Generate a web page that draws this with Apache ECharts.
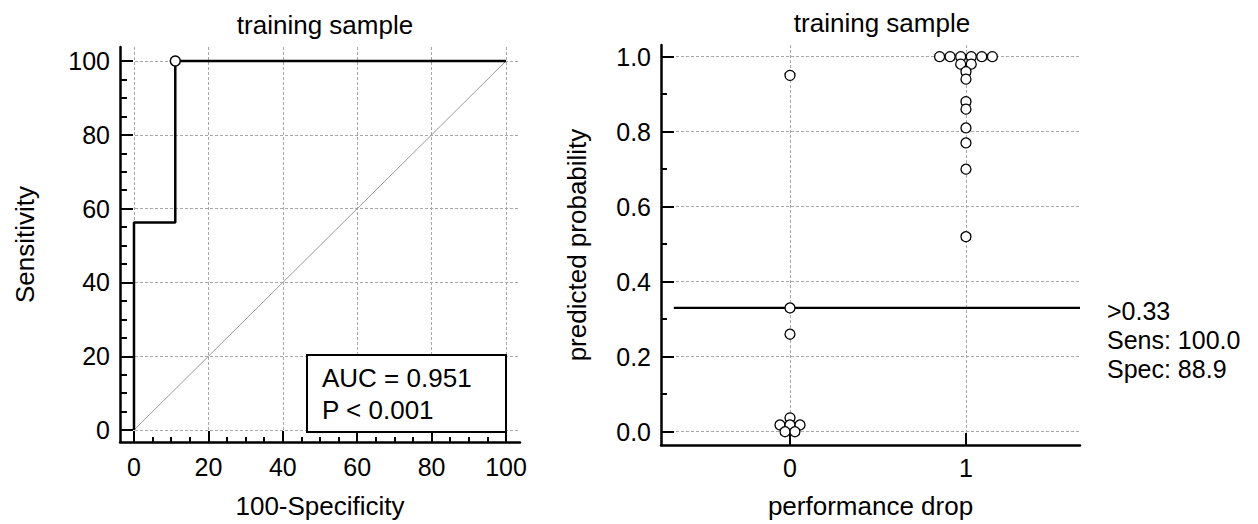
<!DOCTYPE html>
<html><head><meta charset="utf-8">
<script src="https://cdn.jsdelivr.net/npm/echarts@6/dist/echarts.min.js"></script>
<style>html,body{margin:0;padding:0;background:#fff}#c{width:1258px;height:524px}</style>
</head><body><div id="c"></div>
<script>
// ---- data ----
const rocFpr = [0, 0, 11.1, 11.1, 100];
const rocTpr = [0, 56.25, 56.25, 100, 100];
const cutoffFpr = [11.1];
const cutoffTpr = [100];
const diagX = [0, 100];
const diagY = [0, 100];
const rocMajorTicks = [0, 20, 40, 60, 80, 100];
const rocMinorTicks = [5, 10, 15, 25, 30, 35, 45, 50, 55, 65, 70, 75, 85, 90, 95];
const group0Prob = [0.95, 0.33, 0.26, 0.037, 0.018, 0.018, 0.018, 0.0, 0.0];
const group0Jitter = [0, 0, 0, 0, -0.057, 0, 0.057, -0.028, 0.028];
const group1Prob = [1, 1, 1, 1, 1, 1, 0.98, 0.98, 0.96, 0.94, 0.88, 0.86, 0.81, 0.77, 0.70, 0.52];
const group1Jitter = [-0.15, -0.09, -0.03, 0.03, 0.09, 0.15, -0.03, 0.03, 0, 0, 0, 0, 0, 0, 0, 0];
const groupCategories = [0, 1];
const probMajorTicks = [0, 0.2, 0.4, 0.6, 0.8, 1.0];
const probMinorTicks = [0.1, 0.3, 0.5, 0.7, 0.9];
const cutoffValue = [0.33];
const cutoffSpan = [-0.66, 1.648];
const aucLines = ['AUC = 0.951', 'P < 0.001'];
const cutoffLines = ['>0.33', 'Sens: 100.0', 'Spec: 88.9'];
const titles = ['training sample', 'training sample'];
const axisNames = ['100-Specificity', 'Sensitivity', 'performance drop', 'predicted probability'];

// ---- chart ----
const FONT = '"Liberation Sans", Arial, sans-serif';
const FS = 25;     // tick labels / annotations
const FN = 26;     // titles / axis names
const black = '#000';
const gridLine = {show: true, lineStyle: {color: '#a8a8a8', width: 1, type: [3, 2]}};
const noSplit = {show: false};
const axisLineStyle = {show: true, onZero: false, lineStyle: {color: black, width: 2.5}};
const labelStyle = (m, vals, fmt) => ({show: true, customValues: vals, margin: m, fontSize: FS, color: black, fontFamily: FONT, formatter: fmt});
const tickStyle = (len, vals) => ({show: true, inside: true, length: len, customValues: vals, lineStyle: {color: black, width: 2}});
const nameStyle = {fontSize: FN, color: black, fontFamily: FONT};

const chart = echarts.init(document.getElementById('c'), null, {renderer: 'svg'});
chart.setOption({
  animation: false,
  backgroundColor: '#fff',
  title: [
    {text: titles[0], left: 320, top: 7, textAlign: 'center', textStyle: {fontSize: FN, fontWeight: 'normal', color: black, fontFamily: FONT}},
    {text: titles[1], left: 877, top: 5, textAlign: 'center', textStyle: {fontSize: FN, fontWeight: 'normal', color: black, fontFamily: FONT}}
  ],
  grid: [
    {left: 120, top: 47, width: 400, height: 397, containLabel: false},
    {left: 661, top: 45, width: 419, height: 407, containLabel: false}
  ],
  xAxis: [
    {type: 'value', gridIndex: 0, position: 'bottom', min: -3.76, max: 103.76,
     axisLine: axisLineStyle, axisTick: tickStyle(11, rocMajorTicks),
     axisLabel: labelStyle(12, rocMajorTicks, v => String(v)), splitLine: gridLine,
     name: axisNames[0], nameLocation: 'middle', nameGap: 51, nameTextStyle: nameStyle},
    {type: 'value', gridIndex: 0, position: 'bottom', min: -3.76, max: 103.76,
     axisLine: {show: false, onZero: false}, axisTick: tickStyle(5, rocMinorTicks),
     axisLabel: {show: false}, splitLine: noSplit},
    {type: 'value', gridIndex: 1, position: 'bottom', min: -0.733, max: 1.648,
     axisLine: axisLineStyle, axisTick: tickStyle(12, groupCategories),
     axisLabel: labelStyle(10, groupCategories, v => String(v)), splitLine: gridLine,
     name: axisNames[2], nameLocation: 'middle', nameGap: 48, nameTextStyle: nameStyle}
  ],
  yAxis: [
    {type: 'value', gridIndex: 0, position: 'left', min: -3.23, max: 103.8,
     axisLine: axisLineStyle, axisTick: tickStyle(13, rocMajorTicks),
     axisLabel: labelStyle(10, rocMajorTicks, v => String(v)), splitLine: gridLine,
     name: axisNames[1], nameLocation: 'middle', nameGap: 82, nameTextStyle: nameStyle},
    {type: 'value', gridIndex: 0, position: 'left', min: -3.23, max: 103.8,
     axisLine: {show: false, onZero: false}, axisTick: tickStyle(7, rocMinorTicks),
     axisLabel: {show: false}, splitLine: noSplit},
    {type: 'value', gridIndex: 1, position: 'left', min: -0.0354, max: 1.031,
     axisLine: axisLineStyle, axisTick: tickStyle(13, probMajorTicks),
     axisLabel: labelStyle(10, probMajorTicks, v => v.toFixed(1)), splitLine: gridLine,
     name: axisNames[3], nameLocation: 'middle', nameGap: 71, nameTextStyle: nameStyle},
    {type: 'value', gridIndex: 1, position: 'left', min: -0.0354, max: 1.031,
     axisLine: {show: false, onZero: false}, axisTick: tickStyle(6, probMinorTicks),
     axisLabel: {show: false}, splitLine: noSplit}
  ],
  series: [
    {type: 'line', xAxisIndex: 0, yAxisIndex: 0, data: diagX.map((x, i) => [x, diagY[i]]),
     symbol: 'none', lineStyle: {color: '#9a9a9a', width: 1}, z: 2, silent: true},
    {type: 'line', xAxisIndex: 0, yAxisIndex: 0, data: rocFpr.map((x, i) => [x, rocTpr[i]]),
     symbol: 'none', lineStyle: {color: black, width: 2.5}, z: 3, silent: true},
    {type: 'scatter', xAxisIndex: 0, yAxisIndex: 0, data: cutoffFpr.map((x, i) => [x, cutoffTpr[i]]),
     symbol: 'circle', symbolSize: 10, itemStyle: {color: '#fff', borderColor: black, borderWidth: 1.5, opacity: 1}, z: 4, silent: true},
    {type: 'line', xAxisIndex: 2, yAxisIndex: 2, data: cutoffSpan.map(x => [x, cutoffValue[0]]),
     symbol: 'none', lineStyle: {color: black, width: 2.2}, z: 3, silent: true},
    {type: 'scatter', xAxisIndex: 2, yAxisIndex: 2, data: group0Prob.map((p, i) => [groupCategories[0] + group0Jitter[i], p]),
     symbol: 'circle', symbolSize: 10, itemStyle: {color: '#fff', borderColor: black, borderWidth: 1.3, opacity: 1}, z: 4, silent: true},
    {type: 'scatter', xAxisIndex: 2, yAxisIndex: 2, data: group1Prob.map((p, i) => [groupCategories[1] + group1Jitter[i], p]),
     symbol: 'circle', symbolSize: 10, itemStyle: {color: '#fff', borderColor: black, borderWidth: 1.3, opacity: 1}, z: 4, silent: true}
  ],
  graphic: [
    {type: 'rect', z: 100, shape: {x: 307, y: 355, width: 199, height: 77}, style: {fill: '#fff', stroke: black, lineWidth: 2}},
    {type: 'text', z: 101, x: 322, y: 378, style: {text: aucLines[0], fontSize: 26, fontFamily: FONT, fill: black, verticalAlign: 'middle'}},
    {type: 'text', z: 101, x: 322, y: 410, style: {text: aucLines[1], fontSize: 26, fontFamily: FONT, fill: black, verticalAlign: 'middle'}},
    {type: 'text', z: 101, x: 1107, y: 311, style: {text: cutoffLines[0], fontSize: FS, fontFamily: FONT, fill: black, verticalAlign: 'middle'}},
    {type: 'text', z: 101, x: 1107, y: 340, style: {text: cutoffLines[1], fontSize: FS, fontFamily: FONT, fill: black, verticalAlign: 'middle'}},
    {type: 'text', z: 101, x: 1107, y: 369, style: {text: cutoffLines[2], fontSize: FS, fontFamily: FONT, fill: black, verticalAlign: 'middle'}}
  ]
});
</script>
</body></html>
